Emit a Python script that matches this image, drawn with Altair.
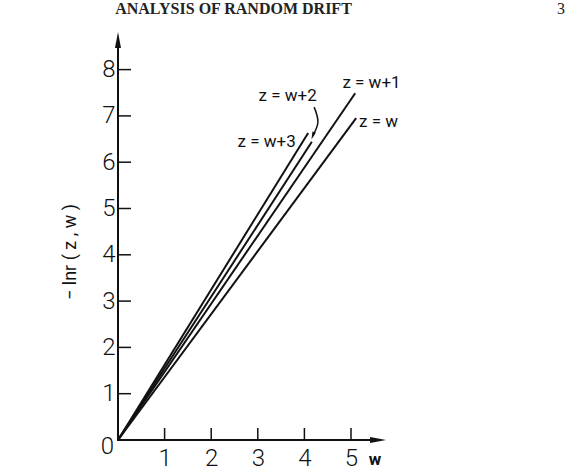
import altair as alt
import pandas as pd

# ---- data ----
W_ZW = [0, 5.11]
Y_ZW = [0, 6.95]
W_ZW1 = [0, 5.09]
Y_ZW1 = [0, 7.49]
W_ZW2 = [0, 4.16]
Y_ZW2 = [0, 6.44]
W_ZW3 = [0, 4.08]
Y_ZW3 = [0, 6.63]
SERIES = ["z = w", "z = w+1", "z = w+2", "z = w+3"]

X_TICKS = [1, 2, 3, 4, 5]
Y_TICKS = [1, 2, 3, 4, 5, 6, 7, 8]

# annotation label positions (data units)
LABEL_TEXT = ["z = w+1", "z = w+2", "z = w+3", "z = w"]
LABEL_W = [5.44, 3.64, 3.19, 5.59]
LABEL_Y = [7.71, 7.43, 6.44, 6.87]

# curved pointer for z = w+2
PTR_W = [4.21, 4.29, 4.18]
PTR_Y = [7.19, 6.87, 6.57]

# ---- layout ----
PX_X, PX_Y = 46.6, 46.3
X_MAX, Y_MAX = 6, 9
W = X_MAX * PX_X
H = Y_MAX * PX_Y
LEFT, ORIGIN_Y = 118, 440
TOP = ORIGIN_Y - H

FONT = "Roboto"
INK = "#111111"

X = alt.X("w:Q", scale=alt.Scale(domain=[0, X_MAX], nice=False, zero=False),
          axis=alt.Axis(values=X_TICKS, domain=False, ticks=False, grid=False,
                        labelFontSize=24, labelFont=FONT, labelFontWeight=300,
                        labelColor=INK, labelPadding=6, title=None, format="d"))
Y = alt.Y("y:Q", scale=alt.Scale(domain=[0, Y_MAX], nice=False, zero=False),
          axis=alt.Axis(values=Y_TICKS, domain=False, ticks=False, grid=False,
                        labelFontSize=24, labelFont=FONT, labelFontWeight=300,
                        labelColor=INK, labelPadding=3, title=None, format="d"))

rows = []
for name, ws, ys in zip(SERIES, [W_ZW, W_ZW1, W_ZW2, W_ZW3], [Y_ZW, Y_ZW1, Y_ZW2, Y_ZW3]):
    for i, (a, b) in enumerate(zip(ws, ys)):
        rows.append({"series": name, "w": a, "y": b, "o": i})
lines_df = pd.DataFrame(rows)

lines = alt.Chart(lines_df).mark_line(color=INK, strokeWidth=2).encode(
    x=X, y=Y, detail="series:N", order="o:Q")

# axes lines
axis_df = pd.DataFrame({"w": [0, 0, 5.58], "y": [8.64, 0, 0], "o": [0, 1, 2]})
axis_lines = alt.Chart(axis_df).mark_line(color=INK, strokeWidth=2).encode(
    x=X, y=Y, order="o:Q")

y_arrow = alt.Chart(pd.DataFrame({"w": [0], "y": [8.64]})).mark_point(
    shape="M0,-1 L0.38,1 L-0.38,1 Z", size=256, filled=True, color=INK, opacity=1
).encode(x=X, y=Y)
x_arrow = alt.Chart(pd.DataFrame({"w": [5.58], "y": [0]})).mark_point(
    shape="M1,0 L-1,-0.38 L-1,0.38 Z", size=256, filled=True, color=INK, opacity=1
).encode(x=X, y=Y)

# ticks
ytick_df = pd.DataFrame({"w": [0] * len(Y_TICKS), "y": Y_TICKS})
yticks = alt.Chart(ytick_df).mark_rule(color=INK, strokeWidth=1.5).encode(
    y=Y, x=alt.value(0), x2=alt.value(13))
xtick_df = pd.DataFrame({"w": X_TICKS, "y": [0] * len(X_TICKS)})
xticks = alt.Chart(xtick_df).mark_rule(color=INK, strokeWidth=1.5).encode(
    x=X, y=alt.value(H), y2=alt.value(H - 12))

# series labels
lab_df = pd.DataFrame({"w": LABEL_W, "y": LABEL_Y, "t": LABEL_TEXT})
labels = alt.Chart(lab_df).mark_text(font=FONT, fontSize=17, color=INK,
                                     align="center", baseline="middle").encode(
    x=X, y=Y, text="t:N")

# curved pointer
ptr_df = pd.DataFrame({"w": PTR_W, "y": PTR_Y, "o": [0, 1, 2]})
pointer = alt.Chart(ptr_df).mark_line(color=INK, strokeWidth=1.5,
                                      interpolate="cardinal").encode(
    x=X, y=Y, order="o:Q")
ptr_head = alt.Chart(ptr_df.iloc[[2]]).mark_point(
    shape="M0,1 L-0.45,-1 L0.45,-1 Z", size=64, filled=True, color=INK,
    opacity=1, angle=20).encode(x=X, y=Y)

# texts outside the data area
txt = pd.DataFrame({"k": [0]})
def text(s, x, y, **kw):
    return alt.Chart(txt).mark_text(**kw).encode(
        x=alt.value(x), y=alt.value(y), text=alt.value(s))

title = text("ANALYSIS OF RANDOM DRIFT", 233.5 - LEFT, 9 - TOP,
             font="Liberation Serif", fontSize=16, fontWeight="bold",
             color="#222222", align="center", baseline="middle")
page = text("3", 557 - LEFT, 9 - TOP, font="Liberation Serif", fontSize=16,
            color="#222222", align="left", baseline="middle")
ytitle = text("− lnr ( z , w )", 71 - LEFT, 252 - TOP, font=FONT, fontSize=18,
              color=INK, angle=270, align="center", baseline="middle")
zero = text("0", 107.5 - LEFT, 447 - TOP, font=FONT, fontSize=24, fontWeight=300,
            color=INK, align="center", baseline="middle")
wlab = text("w", 375 - LEFT, 460 - TOP, font=FONT, fontSize=17, fontWeight="bold",
            color=INK, align="center", baseline="middle")

chart = alt.layer(
    lines, axis_lines, y_arrow, x_arrow, yticks, xticks, labels, pointer, ptr_head,
    title, page, ytitle, zero, wlab
).properties(
    width=W, height=H,
    autosize=alt.AutoSizeParams(type="none"),
    padding={"left": LEFT, "top": TOP, "right": 567 - LEFT - W, "bottom": 476 - ORIGIN_Y},
    background="white",
).configure_view(stroke=None)

chart.save("out.html", embed_options={"renderer": "svg", "actions": False})
